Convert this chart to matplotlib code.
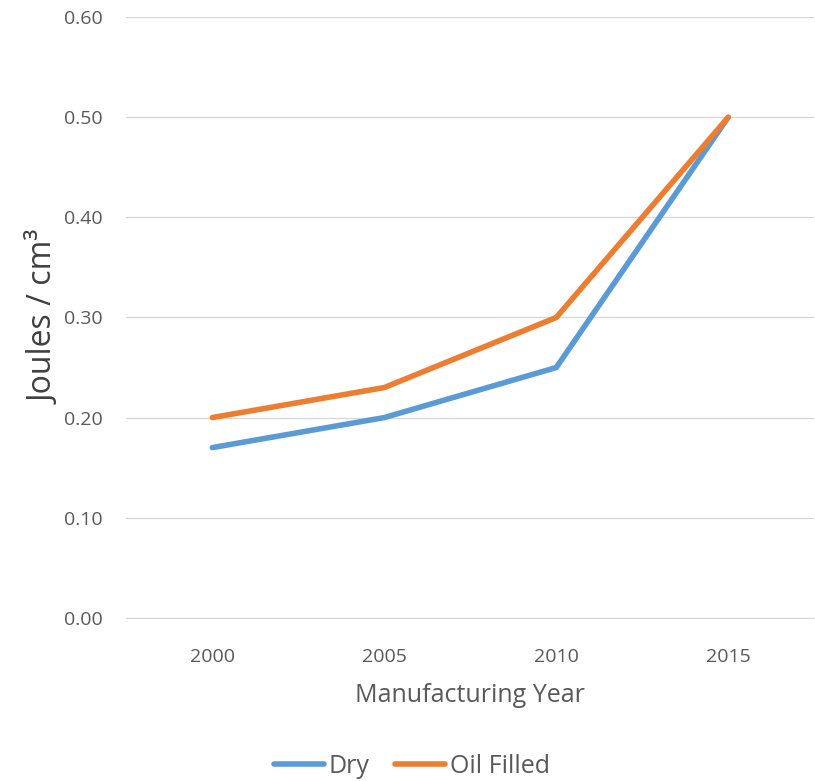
import matplotlib
matplotlib.use("Agg")
import matplotlib.pyplot as plt

years = ["2000", "2005", "2010", "2015"]
dry = [0.17, 0.20, 0.25, 0.50]
oil = [0.20, 0.23, 0.30, 0.50]
yticks = [0.0, 0.1, 0.2, 0.3, 0.4, 0.5, 0.6]

plt.rcParams['font.family'] = ['Open Sans', 'DejaVu Sans']
fig = plt.figure(figsize=(8.15, 7.81), dpi=100)
ax = fig.add_axes([0.155, 0.209, 0.844, 0.769])
x = list(range(len(years)))
ax.plot(x, dry, color="#5B9BD5", lw=4, label="Dry", solid_capstyle="round")
ax.plot(x, oil, color="#ED7D31", lw=4, label="Oil Filled", solid_capstyle="round")
ax.set_xlim(-0.5, 3.5)
ax.set_ylim(0, 0.6)
ax.set_yticks(yticks)
ax.set_yticklabels([f"{v:.2f}" for v in yticks])
ax.set_xticks(x)
ax.set_xticklabels(years)
ax.grid(axis="y", color="#D9D9D9", lw=1)
ax.set_axisbelow(True)
for s in ["top", "right", "left"]:
    ax.spines[s].set_visible(False)
ax.spines["bottom"].set_color("#D9D9D9")
ax.tick_params(length=0, labelsize=14, colors="#595959")
ax.tick_params(axis="x", pad=22)
ax.tick_params(axis="y", pad=17)
ax.set_ylabel("Joules / cm³", fontsize=23, color="#404040", labelpad=2)
ax.set_xlabel("Manufacturing Year", fontsize=18, color="#595959", labelpad=12)
fig.legend(loc="lower center", bbox_to_anchor=(0.505, -0.026), ncol=2, frameon=False,
           fontsize=18, labelcolor="#595959", handlelength=2.0, handletextpad=0.2,
           columnspacing=1.0)
fig.savefig("out.png", dpi=100)
